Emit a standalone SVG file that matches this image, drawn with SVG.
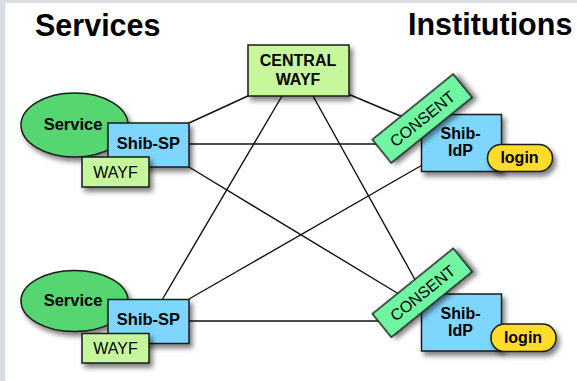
<svg xmlns="http://www.w3.org/2000/svg" width="577" height="381" viewBox="0 0 577 381">
<style>
.t{font-family:"Liberation Sans",Arial,sans-serif;fill:#000;text-anchor:middle}
.b{font-weight:bold}
.h{font-size:30.5px;font-weight:bold;font-family:"Liberation Sans",Arial,sans-serif;fill:#000}
.s{stroke:#1a1a1a;stroke-width:1.5}
.ln{stroke:#111;stroke-width:1.4;fill:none}
.svc{fill:#55d66f}
.sp{fill:#7fd6fd}
.wf{fill:#c6f79c}
.cs{fill:#6ff5a2}
.lg{fill:#fedc2b}
</style>
<defs>
<filter id="sh" x="-30%" y="-30%" width="160%" height="170%">
<feDropShadow dx="3" dy="4" stdDeviation="2.5" flood-color="#000" flood-opacity="0.5"/>
</filter>
</defs>
<rect x="0" y="0" width="577" height="381" fill="#ffffff"/>
<rect x="0" y="0" width="577" height="3" fill="#d9dde1"/>
<rect x="0" y="0" width="5" height="381" fill="#d9dde1"/>
<text class="h" x="35" y="36">Services</text>
<text class="h" x="408" y="35">Institutions</text>
<g id="connectors">
<line class="ln" x1="189" y1="123" x2="250" y2="95"/>
<line class="ln" x1="189" y1="144" x2="395" y2="144"/>
<line class="ln" x1="189" y1="167" x2="412" y2="302"/>
<line class="ln" x1="282" y1="96" x2="162" y2="300"/>
<line class="ln" x1="313" y1="96" x2="418" y2="285"/>
<line class="ln" x1="348" y1="94" x2="410" y2="120"/>
<line class="ln" x1="424" y1="164" x2="189" y2="299"/>
<line class="ln" x1="189" y1="321" x2="395" y2="321"/>
</g>
<g id="central-wayf">
<rect class="wf s" x="248" y="45" width="101" height="51" filter="url(#sh)"/>
<text class="t b" x="298" y="66" font-size="16">CENTRAL</text>
<text class="t b" x="298" y="85" font-size="16">WAYF</text>
</g>
<g id="service-1">
<ellipse class="svc s" cx="74.5" cy="125" rx="53.5" ry="32" filter="url(#sh)"/>
<text class="t b" x="73" y="130" font-size="16.5">Service</text>
</g>
<g id="shib-sp-1">
<rect class="sp s" x="108" y="123" width="81" height="44" filter="url(#sh)"/>
<text class="t b" x="148.5" y="149" font-size="16.5">Shib-SP</text>
</g>
<g id="wayf-1">
<rect class="wf s" x="82" y="157" width="67" height="30" filter="url(#sh)"/>
<text class="t" x="115.5" y="177.5" font-size="16">WAYF</text>
</g>
<g id="service-2">
<ellipse class="svc s" cx="74.5" cy="301" rx="53.5" ry="30.5" filter="url(#sh)"/>
<text class="t b" x="73" y="306" font-size="16.5">Service</text>
</g>
<g id="shib-sp-2">
<rect class="sp s" x="108" y="299.5" width="81" height="44" filter="url(#sh)"/>
<text class="t b" x="148.5" y="325" font-size="16.5">Shib-SP</text>
</g>
<g id="wayf-2">
<rect class="wf s" x="82" y="333.5" width="67" height="29.5" filter="url(#sh)"/>
<text class="t" x="115.5" y="353.5" font-size="16">WAYF</text>
</g>
<g id="shib-idp-1">
<rect class="sp s" x="421.5" y="114.5" width="80" height="57" filter="url(#sh)"/>
<text class="t b" x="460.5" y="138.5" font-size="16">Shib-</text>
<text class="t b" x="460.5" y="155.5" font-size="16">IdP</text>
</g>
<g id="login-1">
<rect class="lg s" x="487.5" y="144.5" width="65" height="27" rx="13.5" filter="url(#sh)"/>
<text class="t b" x="519.5" y="162.5" font-size="16">login</text>
</g>
<g id="consent-1">
<rect class="cs s" x="-52" y="-15" width="104" height="30" transform="translate(422.2 118.5) rotate(-39)" filter="url(#sh)"/>
<text class="t" x="0" y="6" font-size="16" transform="translate(422.2 118.5) rotate(-39)">CONSENT</text>
</g>
<g id="shib-idp-2">
<rect class="sp s" x="421.5" y="294" width="80" height="57" filter="url(#sh)"/>
<text class="t b" x="460.5" y="318.5" font-size="16">Shib-</text>
<text class="t b" x="460.5" y="335.5" font-size="16">IdP</text>
</g>
<g id="login-2">
<rect class="lg s" x="491" y="324" width="65" height="27.5" rx="13.5" filter="url(#sh)"/>
<text class="t b" x="523" y="342.5" font-size="16">login</text>
</g>
<g id="consent-2">
<rect class="cs s" x="-52" y="-15" width="104" height="30" transform="translate(422.3 292.8) rotate(-39)" filter="url(#sh)"/>
<text class="t" x="0" y="6" font-size="16" transform="translate(422.3 292.8) rotate(-39)">CONSENT</text>
</g>
</svg>
